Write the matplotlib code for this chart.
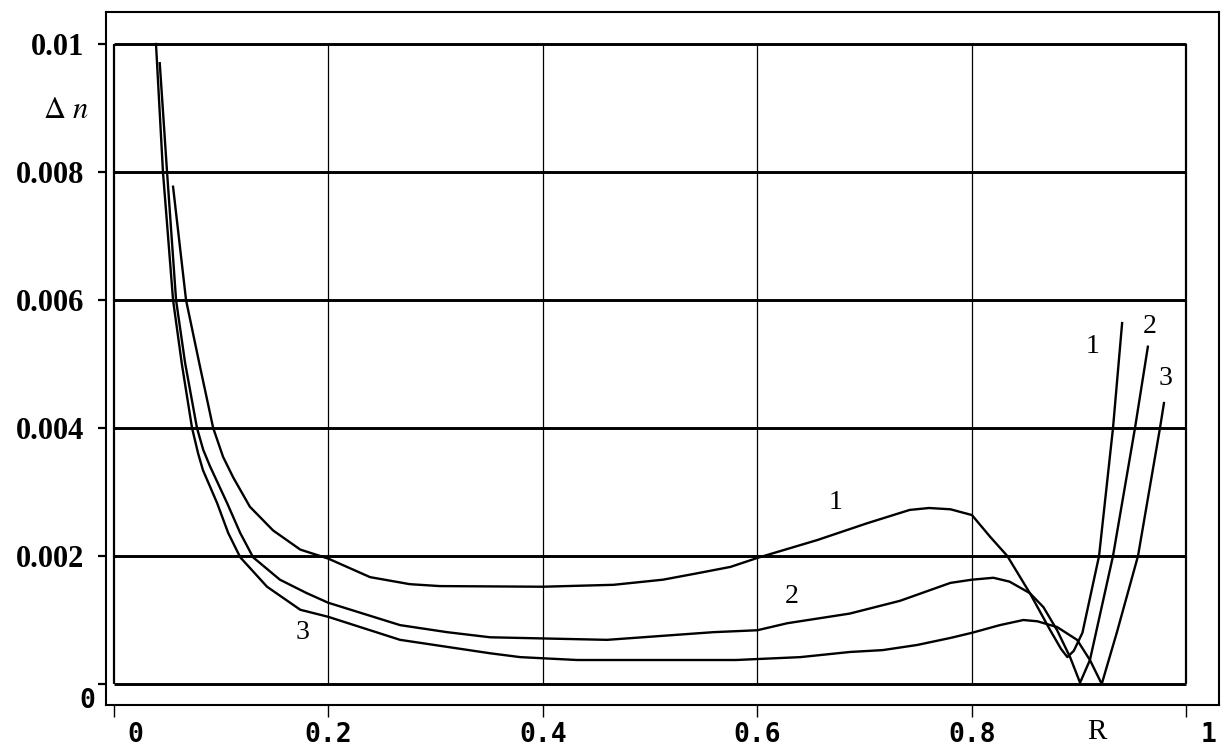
import matplotlib
matplotlib.use("Agg")
import matplotlib.pyplot as plt
from matplotlib import transforms

# ---- data ----
x1 = [0.0554, 0.0675, 0.080, 0.0928, 0.102, 0.1114, 0.127, 0.1486, 0.174, 0.2, 0.239, 0.276, 0.304,
      0.40, 0.466, 0.512, 0.544, 0.575, 0.6, 0.656, 0.702, 0.742, 0.76, 0.78, 0.80,
      0.817, 0.833, 0.854, 0.873, 0.883, 0.889, 0.895, 0.903, 0.9185, 0.9315, 0.940]
y1 = [0.00777, 0.0060, 0.0050, 0.0040, 0.00355, 0.00323, 0.00277, 0.0024, 0.0021, 0.00196, 0.00167, 0.00156, 0.00153,
      0.00152, 0.00155, 0.00163, 0.00173, 0.00183, 0.00197, 0.00225, 0.00251, 0.00272, 0.00275, 0.00273, 0.00264,
      0.0023, 0.0020, 0.00142, 0.00084, 0.00055, 0.00042, 0.00052, 0.0008, 0.0020, 0.0040, 0.00564]

x2 = [0.043, 0.0498, 0.0582, 0.0666, 0.0777, 0.0835, 0.0899, 0.1057, 0.118, 0.130, 0.155, 0.180, 0.2, 0.267,
      0.3108, 0.351, 0.46, 0.559, 0.6, 0.628, 0.686, 0.733, 0.780, 0.80, 0.82, 0.835,
      0.854, 0.8667, 0.8794, 0.8915, 0.9008, 0.910, 0.9315, 0.952, 0.964]
y2 = [0.0097, 0.008, 0.006, 0.00502, 0.004, 0.00366, 0.0034, 0.00283, 0.00236, 0.00198, 0.00163, 0.00142, 0.00127, 0.00092,
      0.00081, 0.00073, 0.00069, 0.00081, 0.00084, 0.00095, 0.0011, 0.0013, 0.00158, 0.00163, 0.00166, 0.0016,
      0.00142, 0.0012, 0.00084, 0.00042, 0.00002, 0.000375, 0.002, 0.004, 0.00527]

x3 = [0.0395, 0.046, 0.0554, 0.0636, 0.0731, 0.0788, 0.0833, 0.0964, 0.1068, 0.118, 0.143, 0.174, 0.2, 0.267,
      0.351, 0.379, 0.432, 0.58, 0.64, 0.686, 0.717, 0.749, 0.780, 0.8, 0.826, 0.848,
      0.861, 0.8794, 0.898, 0.910, 0.921, 0.935, 0.9548, 0.9753, 0.979]
y3 = [0.01, 0.008, 0.006, 0.0050, 0.004, 0.0036, 0.00334, 0.00283, 0.00236, 0.00198, 0.00152, 0.00116, 0.00105, 0.00069,
      0.00048, 0.00042, 0.000375, 0.000375, 0.00042, 0.0005, 0.00053, 0.00061, 0.00072, 0.0008, 0.00092, 0.001,
      0.00098, 0.00089, 0.00069, 0.000375, 0.0, 0.0008, 0.002, 0.004, 0.00439]

xticks = [0, 0.2, 0.4, 0.6, 0.8, 1.0]
xticklabels = ["0", "0.2", "0.4", "0.6", "0.8", "1"]
yticks = [0, 0.002, 0.004, 0.006, 0.008, 0.01]
yticklabels = ["", "0.002", "0.004", "0.006", "0.008", "0.01"]

curve_labels = ["1", "2", "3", "1", "2", "3"]
label_x = [0.673, 0.632, 0.176, 0.912, 0.966, 0.980]
label_y = [0.00284, 0.001375, 0.00081, 0.00528, 0.00558, 0.00477]

# ---- figure ----
plt.rcParams['mathtext.fontset'] = 'stix'
W, H = 1224, 747
fig = plt.figure(figsize=(W / 100, H / 100), dpi=100)
ax = fig.add_axes([106 / W, (H - 705) / H, (1219 - 106) / W, (705 - 12) / H])
ax.set_xlim(-0.0071, 1.0303)
ax.set_ylim(-0.000328, 0.0105)

# grid box
ax.hlines(yticks, 0, 1.0, colors='black', lw=2.1, zorder=1)
ax.vlines([0, 1.0], 0, 0.01, colors='black', lw=1.6, zorder=1)
ax.vlines(xticks[1:-1], 0, 0.01, colors='black', lw=0.9, zorder=1)

for xs, ys in ((x1, y1), (x2, y2), (x3, y3)):
    ax.plot(xs, ys, color='black', lw=1.7, zorder=3)

for t, lx, ly in zip(curve_labels, label_x, label_y):
    ax.text(lx, ly, t, fontsize=20, family='Liberation Serif', ha='center', va='center', zorder=4)

for s in ax.spines.values():
    s.set_linewidth(1.5)

ax.set_xticks(xticks)
ax.set_xticklabels(xticklabels, family='DejaVu Sans Mono', fontweight='bold', fontsize=19)
ax.set_yticks(yticks)
ax.set_yticklabels(yticklabels, family='Liberation Serif', fontweight='bold', fontsize=22)
ax.tick_params(axis='x', direction='out', length=8.6, width=1.0, pad=3.5)
ax.tick_params(axis='y', direction='out', length=6, width=1.6, pad=10)

for lab in ax.get_xticklabels():
    if lab.get_text() in ("0", "1"):
        lab.set_transform(lab.get_transform() + transforms.ScaledTranslation(22 / 100, 0, fig.dpi_scale_trans))

ax.annotate("0", xy=(0, 0), xycoords=ax.get_yaxis_transform(), xytext=(-8, -3),
            textcoords='offset points', ha='right', va='top',
            family='DejaVu Sans Mono', fontweight='bold', fontsize=19)

fig.text(66 / W, 1 - 110 / H, r'$\Delta\ n$', fontsize=22, ha='center', va='center')
fig.text(1097 / W, 1 - 732 / H, 'R', fontsize=21, family='Liberation Serif', ha='center', va='center')

fig.savefig('out.png', dpi=100, facecolor='white')
